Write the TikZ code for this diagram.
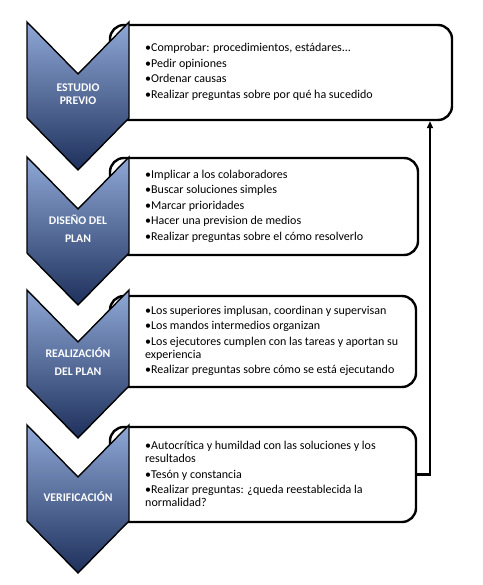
\documentclass[tikz,border=0pt]{standalone}
\usepackage{fontspec}
\setmainfont{Carlito}
\usetikzlibrary{arrows.meta}
\definecolor{chevtop}{RGB}{143,168,214}
\definecolor{chevmid}{RGB}{58,88,150}
\definecolor{chevbot}{RGB}{30,48,92}
\begin{document}
\begin{tikzpicture}[x=1pt,y=-1pt,card/.style={draw, line width=2.4pt, rounded corners=14pt, fill=white, inner sep=0pt},chev/.style={draw, line width=1.4pt, line join=miter, top color=chevtop, middle color=chevmid, bottom color=chevbot},lbl/.style={text=white, align=center, font=\bfseries\fontsize{11.7}{18}\selectfont},items/.style={anchor=west, align=left, inner sep=0pt, font=\fontsize{12}{13.2}\selectfont}]
\useasboundingbox (0,0) rectangle (482,585);
% boxes behind the chevrons
\node[card, minimum width=342pt, minimum height=95pt] (estudio) at (281,72.5) {};
\node[card, minimum width=308pt, minimum height=97pt] (diseno) at (264,206.5) {};
\node[card, minimum width=306pt, minimum height=91pt] (realiz) at (263,341.5) {};
\node[card, minimum width=306pt, minimum height=95pt] (verif) at (263,474.5) {};
% chevrons
\path[chev] (27,22) -- (78,74) -- (129,22) -- (129,118) -- (78,170) -- (27,118) -- cycle;
\path[chev] (27,157) -- (78,209) -- (129,157) -- (129,253) -- (78,305) -- (27,253) -- cycle;
\path[chev] (27,290) -- (78,342) -- (129,290) -- (129,386) -- (78,438) -- (27,386) -- cycle;
\path[chev] (27,425) -- (78,477) -- (129,425) -- (129,521) -- (78,573) -- (27,521) -- cycle;
\node[lbl] (l1) at (78,94.5) {ESTUDIO\\[-5pt]PREVIO};
\node[lbl] (l2) at (78,229) {DISEÑO DEL\\PLAN};
\node[lbl] (l3) at (78,362) {REALIZACIÓN\\DEL PLAN};
\node[lbl] (l4) at (78,497) {VERIFICACIÓN};
% texts
\node[items] (t1) at (145,72) {•Comprobar: procedimientos, estádares...\\[2.3pt]•Pedir opiniones\\[2.3pt]•Ordenar causas\\[2.3pt]•Realizar preguntas sobre por qué ha sucedido};
\node[items] (t2) at (145,206) {•Implicar a los colaboradores\\[2.3pt]•Buscar soluciones simples\\[2.3pt]•Marcar prioridades\\[2.3pt]•Hacer una prevision de medios\\[2.3pt]•Realizar preguntas sobre el cómo resolverlo};
\node[items] (t3) at (145,341) {•Los superiores implusan, coordinan y supervisan\\[2.3pt]•Los mandos intermedios organizan\\[2.3pt]•Los ejecutores cumplen con las tareas y aportan su\\experiencia\\[2.3pt]•Realizar preguntas sobre cómo se está ejecutando};
\node[items] (t4) at (145,474) {•Autocrítica y humildad con las soluciones y los\\resultados\\[2.3pt]•Tesón y constancia\\[2.3pt]•Realizar preguntas: ¿queda reestablecida la\\normalidad?};
% feedback loop
\coordinate (back) at (430,300);
\draw[line width=2.2pt, -{Triangle[length=7pt,width=6pt]}] (verif.east) -| (back |- estudio.south);
\end{tikzpicture}
\end{document}
